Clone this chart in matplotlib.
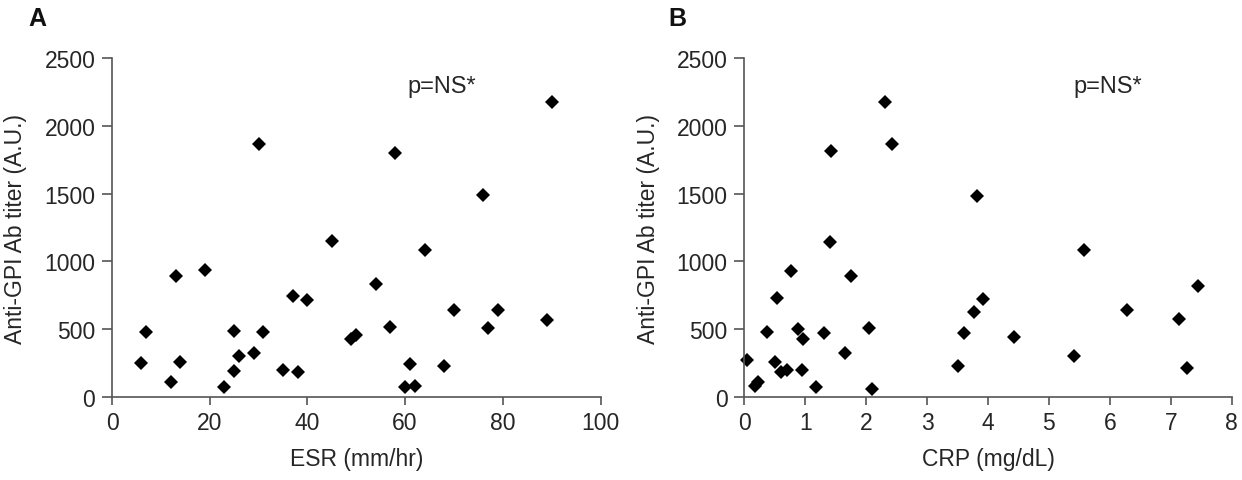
import numpy as np
import matplotlib
matplotlib.use("Agg")
import matplotlib.pyplot as plt

plt.rcParams["font.family"] = ["Liberation Sans", "DejaVu Sans"]

# =========================================================
# DATA
# =========================================================
esr = [6, 7, 13, 12, 14, 19, 23, 25, 25, 26, 29, 30, 31, 35, 37, 38, 40, 45,
       49, 50, 58, 54, 57, 61, 60, 62, 64, 68, 70, 76, 77, 79, 89, 90]
titer_esr = [250, 475, 895, 110, 260, 935, 70, 190, 485, 300, 325, 1865, 475,
             200, 745, 180, 715, 1150, 425, 455, 1805, 830, 515, 240, 70, 80,
             1085, 230, 640, 1490, 505, 640, 570, 2175]

crp = [0.05, 0.18, 0.23, 0.37, 0.54, 0.51, 0.60, 0.70, 0.76, 0.88, 0.96, 0.95,
       1.17, 1.31, 1.41, 1.43, 1.66, 1.75, 2.04, 2.10, 2.31, 2.43, 3.51, 3.61,
       3.77, 3.82, 3.92, 4.43, 5.41, 5.57, 6.28, 7.13, 7.27, 7.44]
titer_crp = [270, 80, 110, 480, 730, 260, 185, 200, 930, 500, 425, 200, 70,
             470, 1145, 1815, 325, 890, 510, 57, 2175, 1868, 230, 470, 625,
             1485, 720, 440, 300, 1085, 640, 575, 215, 820]

Y_TICKS = [0, 500, 1000, 1500, 2000, 2500]
ESR_TICKS = [0, 20, 40, 60, 80, 100]
CRP_TICKS = [0, 1, 2, 3, 4, 5, 6, 7, 8]

TEXT_COLOR = "#262626"
SPINE_COLOR = "#555555"
FS = 16.5

# =========================================================
# HELPERS
# =========================================================
def style_axis(ax, x, y, xticks, xlabel, note_x):
    ax.plot(x, y, "D", color="black", markersize=7.6, markeredgewidth=0, clip_on=False)
    ax.set_xlim(xticks[0], xticks[-1]); ax.set_ylim(0, 2500)
    ax.set_xticks(xticks); ax.set_yticks(Y_TICKS)
    for s in ("top", "right"):
        ax.spines[s].set_visible(False)
    for s in ("left", "bottom"):
        ax.spines[s].set_color(SPINE_COLOR); ax.spines[s].set_linewidth(1.2)
    ax.tick_params(axis="y", direction="out", length=7, width=1.2, color=SPINE_COLOR,
                   labelsize=FS, labelcolor=TEXT_COLOR, pad=5)
    ax.tick_params(axis="x", direction="out", length=6, width=1.2, color=SPINE_COLOR,
                   labelsize=FS, labelcolor=TEXT_COLOR, pad=4.5)
    ax.set_xlabel(xlabel, fontsize=FS, color=TEXT_COLOR, labelpad=9)
    ax.set_ylabel("Anti-GPI Ab titer (A.U.)", fontsize=16.5, color=TEXT_COLOR)
    ax.yaxis.set_label_coords(-0.174, 0.5)
    ax.text(note_x, 2296, "p=NS*", fontsize=17, color=TEXT_COLOR, va="center")


# =========================================================
# MAIN
# =========================================================
fig = plt.figure(figsize=(12.42, 4.81), dpi=100)
ax_a = fig.add_axes([0.0902, 0.1732, 0.3933, 0.7031])
ax_b = fig.add_axes([0.5993, 0.1732, 0.3924, 0.7031])

style_axis(ax_a, esr, titer_esr, ESR_TICKS, "ESR (mm/hr)", 60.4)
style_axis(ax_b, crp, titer_crp, CRP_TICKS, "CRP (mg/dL)", 5.4)

fig.text(28 / 1242, 1 - 18.5 / 481, "A", fontsize=18, fontweight="bold",
         color="#111111", ha="left", va="center")
fig.text(668 / 1242, 1 - 18.5 / 481, "B", fontsize=18, fontweight="bold",
         color="#111111", ha="left", va="center")

fig.savefig("out.png", dpi=100)
plt.close(fig)
